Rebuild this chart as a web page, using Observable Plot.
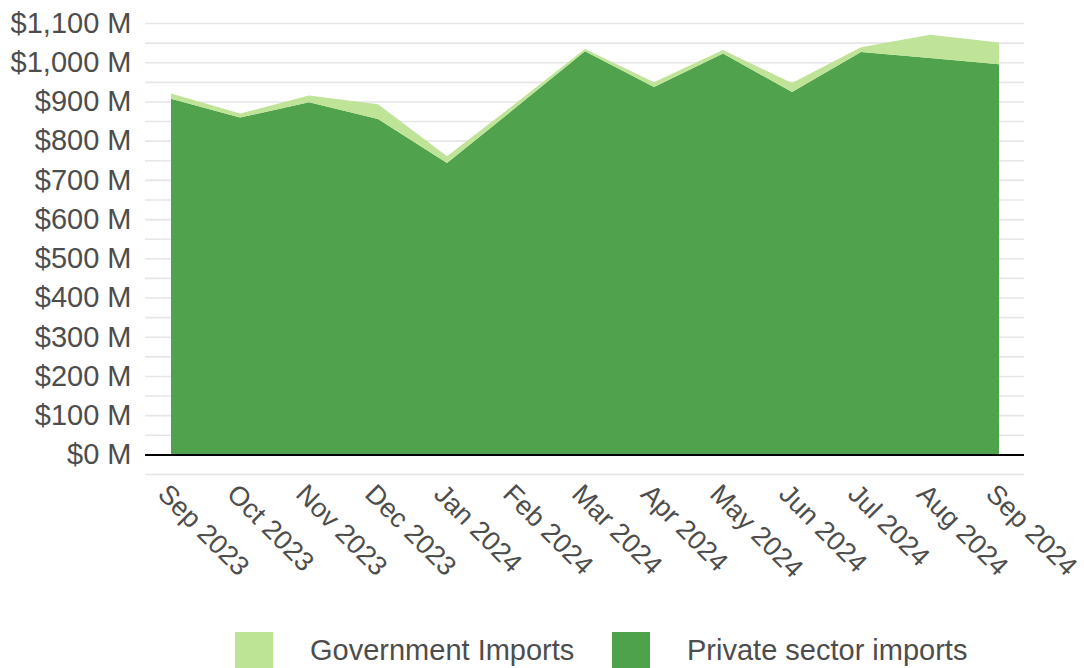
<!DOCTYPE html>
<html>
<head>
<meta charset="utf-8">
<script src="https://cdn.jsdelivr.net/npm/d3@7"></script>
<script src="https://cdn.jsdelivr.net/npm/@observablehq/plot@0.6"></script>
<style>
  body { margin: 0; background: #fff; font-family: "Liberation Sans", Arial, sans-serif; }
  #wrap { position: relative; width: 1084px; height: 668px; }
  .legend { position: absolute; top: 632px; left: 0; width: 1084px; height: 36px; }
  .item { position: absolute; top: 0; display: flex; align-items: center; height: 36px; }
  .sw { width: 38px; height: 36px; margin-right: 37px; }
  .lab { font-size: 29px; color: #4d4d4d; }
</style>
</head>
<body>
<div id="wrap">
  <div id="chart"></div>
  <div class="legend">
    <div class="item" style="left:235px"><div class="sw" style="background:#bde394"></div><span class="lab">Government Imports</span></div>
    <div class="item" style="left:612px"><div class="sw" style="background:#4ea24b"></div><span class="lab">Private sector imports</span></div>
  </div>
</div>
<script>
const months = ["Sep 2023","Oct 2023","Nov 2023","Dec 2023","Jan 2024","Feb 2024","Mar 2024","Apr 2024","May 2024","Jun 2024","Jul 2024","Aug 2024","Sep 2024"];
const privateImports = [907, 859, 898, 855, 743, 885, 1028, 937, 1022, 924, 1026, 1011, 995];
const governmentImports = [13, 10, 17, 38, 17, 11, 6, 12, 9, 23, 12, 59, 55];
const seriesNames = ["Private sector imports", "Government Imports"];
const seriesColors = ["#4a9f47", "#bde394"];
const yTicks = [0, 100, 200, 300, 400, 500, 600, 700, 800, 900, 1000, 1100];
const gridValues = [-50, 0, 50, 100, 150, 200, 250, 300, 350, 400, 450, 500, 550, 600, 650, 700, 750, 800, 850, 900, 950, 1000, 1050, 1100];

const rows = [];
months.forEach((m, i) => {
  rows.push({month: m, series: seriesNames[0], value: privateImports[i]});
  rows.push({month: m, series: seriesNames[1], value: governmentImports[i]});
});

const chart = Plot.plot({
  width: 1084,
  height: 630,
  marginLeft: 145,
  marginRight: 60,
  marginTop: 23,
  marginBottom: 156,
  style: {fontFamily: '"Liberation Sans", Arial, sans-serif', fontSize: "29px", color: "#4d4d4d", background: "#fff"},
  x: {type: "point", domain: months, padding: 0.36, label: null},
  y: {domain: [-50, 1100], label: null},
  color: {domain: seriesNames, range: seriesColors},
  marks: [
    Plot.ruleY(gridValues, {stroke: "#e6e6e6", strokeWidth: 1.6}),
    Plot.areaY(rows, {x: "month", y: "value", fill: "series", order: seriesNames, fillOpacity: 0.97, curve: "linear"}),
    Plot.ruleY([0], {stroke: "#000", strokeWidth: 2}),
    Plot.axisY(yTicks, {tickSize: 0, tickPadding: 14, fontSize: 29, fill: "#4d4d4d",
      tickFormat: d => "$" + d3.format(",")(d) + " M"}),
    Plot.axisX({tickSize: 0, tickPadding: 10, tickRotate: 45, fontSize: 27, fill: "#4d4d4d", dx: -9, dy: 5})
  ]
});
document.getElementById("chart").appendChild(chart);
</script>
</body>
</html>
